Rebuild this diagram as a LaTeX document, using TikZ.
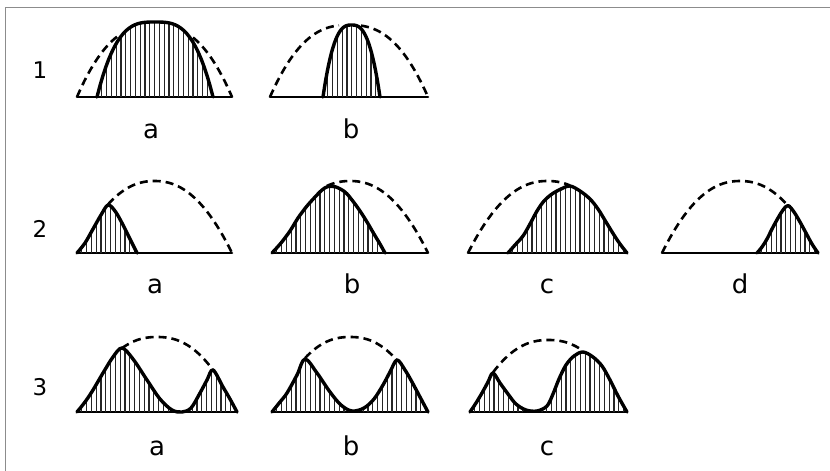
\documentclass[tikz,border=0pt]{standalone}
\usepackage{fontspec}
\setmainfont{DejaVu Sans}
\pgfmathdeclarefunction{envf}{2}{\pgfmathparse{1-(abs(#1)+0.00001)^(#2)}}
\tikzset{
  envline/.style={line width=2.6pt, dash pattern=on 8pt off 5pt, line cap=butt},
  solidline/.style={line width=3.4pt, line join=round, line cap=round},
  baseline/.style={line width=2.6pt, line cap=round},
  hatchline/.style={line width=1.1pt, black!85},
  framel/.style={line width=1pt, black!45},
  lbl/.style={anchor=base, inner sep=0pt, font=\fontsize{26}{26}\selectfont},
  num/.style={anchor=base, inner sep=0pt, font=\fontsize{23}{23}\selectfont}
}
% #1 c, #2 w, #3 base, #4 h, #5 p, #6 xa, #7 xb
\newcommand\envelope[7]{%
  \draw[envline] plot[domain=#6:#7, samples=40] (\x, {#3-#4*envf((\x-#1)/#2, #5)});}
% #1 path, #2 xmin
\newcommand\hatched[2]{%
  \begin{scope}
    \clip #1 -- cycle;
    \foreach \hx in {0,4.8,...,240}{\draw[hatchline] ({#2+\hx},0) -- ({#2+\hx},480);}
  \end{scope}
  \draw[solidline] #1;}
\begin{document}
\begin{tikzpicture}[x=1pt, y=-1pt]
\useasboundingbox (0,0) rectangle (830,471);
\draw[framel] (5,471) -- (5,7) -- (830,7);

% row numbers
\node[num] (n1) at (40,78) {1};
\node[num] (n2) at (40,237) {2};
\node[num] (n3) at (40,395) {3};

% ---------- row 1 ----------
\draw[baseline] (77,97) -- (232,97);
\hatched{plot[domain=-1:1, samples=41] ({155+58*\x}, {97-75*envf(\x,3.1)})}{97}
\envelope{154.5}{77.5}{97}{72}{2.5}{77}{117}
\envelope{154.5}{77.5}{97}{72}{2.5}{193}{232}
\node[lbl] (l1a) at (151,138) {a};

\draw[baseline] (270,97) -- (428,97);
\hatched{plot[domain=-1:1, samples=41] ({351.5+28.5*\x}, {97-72*envf(\x,2.7)})}{323}
\envelope{349}{79}{97}{72}{2.5}{270}{339}
\envelope{349}{79}{97}{72}{2.5}{361}{428}
\node[lbl] (l1b) at (351,138) {b};

% ---------- row 2 ----------
\draw[baseline] (77,253) -- (232,253);
\hatched{plot[smooth, tension=0.55] coordinates {(77,253) (85,243) (93,229) (101,215) (108,205) (115,211) (122,223) (130,239) (137,253)}}{77}
\envelope{154.5}{77.5}{253}{72}{2.2}{108}{232}
\node[lbl] (l2a) at (155,293) {a};

\draw[baseline] (272,253) -- (428,253);
\hatched{plot[smooth, tension=0.55] coordinates {(272,253) (281,243) (290,231) (298,218) (307,206) (316,196) (322,190) (328,186.5) (336,187) (345,192) (352,200) (360,211) (367,222) (374,234) (380,244) (385,253)}}{272}
\envelope{350}{78}{253}{72}{2.2}{327}{428}
\node[lbl] (l2b) at (352,293) {b};

\draw[baseline] (468,253) -- (627,253);
\hatched{plot[smooth, tension=0.55] coordinates {(508,253) (515,245) (523,236) (530,224) (537,211) (544,201) (552,194) (561,189) (570,186) (580,191) (590,199) (598,209) (606,222) (614,235) (620,244) (627,253)}}{508}
\envelope{547.5}{79.5}{253}{72}{2.2}{468}{570}
\node[lbl] (l2c) at (547,293) {c};

\draw[baseline] (662,253) -- (818,253);
\hatched{plot[smooth, tension=0.55] coordinates {(757,253) (762,247) (767,239) (772,229) (778,218) (783,210) (788,205.5) (794,212) (800,222) (806,233) (812,244) (818,253)}}{757}
\envelope{740}{78}{253}{72}{2.2}{662}{788}
\node[lbl] (l2d) at (740,293) {d};

% ---------- row 3 ----------
\draw[baseline] (77,412) -- (237,412);
\hatched{plot[smooth, tension=0.55] coordinates {(77,412) (85,402) (93,390) (103,373) (113,357) (122,348) (133,359) (147,380) (160,399) (172,410) (182,412) (191,408) (200,393) (207,380) (213,370) (223,387) (230,399) (237,412)}}{77}
\envelope{157}{80}{412}{75}{2.3}{122}{213}
\node[lbl] (l3a) at (157,455) {a};

\draw[baseline] (272,412) -- (428,412);
\hatched{plot[smooth, tension=0.55] coordinates {(272,412) (280,402) (287,393) (297,375) (305,359) (317,373) (330,392) (341,405) (352,411) (364,408) (374,399) (383,385) (390,372) (397,360) (405,370) (412,382) (420,397) (428,412)}}{272}
\envelope{350}{78}{412}{75}{2.3}{305}{397}
\node[lbl] (l3b) at (351,455) {b};

\draw[baseline] (470,412) -- (627,412);
\hatched{plot[smooth, tension=0.55] coordinates {(470,412) (476,403) (482,393) (488,382) (493,373) (500,383) (508,394) (516,404) (526,410) (537,411) (547,406) (553,394) (559,379) (566,365) (574,356) (583,352) (593,357) (602,366) (610,380) (618,396) (627,412)}}{470}
\envelope{548.5}{78.5}{412}{72}{2.3}{493}{583}
\node[lbl] (l3c) at (547,455) {c};
\end{tikzpicture}
\end{document}
